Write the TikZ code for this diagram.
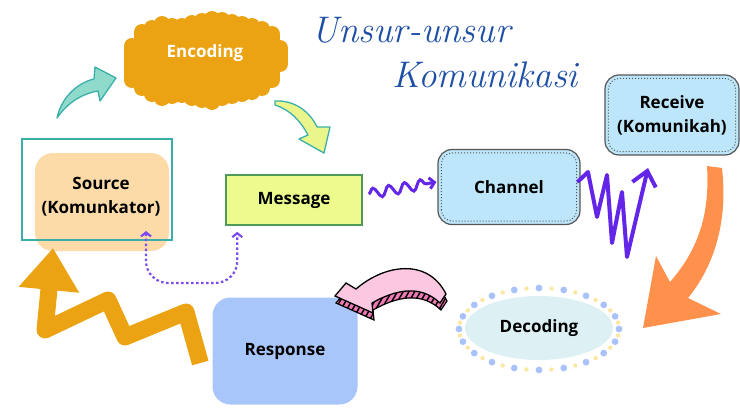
\documentclass[tikz,border=0pt]{standalone}
\usepackage{fontspec}
\newfontfamily\lbl{Open Sans}
\usetikzlibrary{positioning,arrows.meta,decorations.pathmorphing,patterns.meta,shapes.geometric}

\definecolor{encorange}{HTML}{EBA313}
\definecolor{tealedge}{HTML}{3AAFA9}
\definecolor{tealfill}{HTML}{8FDACB}
\definecolor{yelfill}{HTML}{EAF68C}
\definecolor{srcfill}{HTML}{FDDBA9}
\definecolor{msgfill}{HTML}{EDFB8C}
\definecolor{msgedge}{HTML}{4E9A5A}
\definecolor{chfill}{HTML}{BDE6FA}
\definecolor{chedge}{HTML}{555555}
\definecolor{scribble}{HTML}{6326E8}
\definecolor{fbpurple}{HTML}{7C4DEE}
\definecolor{bigorange}{HTML}{FF914D}
\definecolor{decfill}{HTML}{DDF1F4}
\definecolor{dotblue}{HTML}{A9C3FA}
\definecolor{dotyel}{HTML}{FBE7A1}
\definecolor{pinkfill}{HTML}{FCC7E1}
\definecolor{pinkside}{HTML}{F07BB4}
\definecolor{respfill}{HTML}{A9C6FB}
\definecolor{titleblue}{HTML}{1E4FA6}

\begin{document}
\begin{tikzpicture}[x=1pt,y=-1pt,
    box/.style={font=\lbl\bfseries\fontsize{17}{24}\selectfont, text=black, align=center, inner sep=0pt},
    blob/.style={encorange, line width=16pt, line cap=round},
    title/.style={font=\fontsize{37}{37}\selectfont\itshape, text=titleblue, inner sep=0pt},
    fatarrow/.style={draw=tealedge, line width=1.3pt, line join=round},
    wavy/.style={scribble, line width=3pt, decorate,
        decoration={snake, amplitude=5pt, segment length=16pt, post length=7pt}},
    scrib/.style={scribble, line width=4pt, line join=round, line cap=round},
    fbline/.style={fbpurple, line width=2.2pt, dash pattern=on 2.5pt off 2.5pt, rounded corners=22pt},
    zig/.style={encorange, line width=17pt, line join=round}]
\useasboundingbox (0,0) rectangle (740,410);

% title
\node[title] (ttl1) at (411,30) {Unsur-unsur};
\node[title] (ttl2) at (485,75) {Komunikasi};

% encoding blob
\foreach \x/\t/\b in {132/38/88, 142/24/96, 152/20/102, 162/16/106, 172/18/104, 182/18/103,
    192/15/106, 202/13/108, 212/11/110, 222/12/106, 232/14/104, 242/16/102, 252/18/100,
    262/21/96, 272/26/88, 280/40/72}
  \draw[blob] (\x,\t+8) -- (\x,\b-8);
\node[box, text=white] (enc) at (205,53) {Encoding};

% source
\node[fill=srcfill, rounded corners=18pt, minimum width=134pt, minimum height=98pt] (srcbg) at (102,202) {};
\node[draw=tealedge, line width=2.6pt, minimum width=150pt, minimum height=101pt] (srcframe) at (97,189.5) {};
\node[box] (src) at (101,197) {Source\\(Komunkator)};

% message, channel, receive
\node[box, fill=msgfill, draw=msgedge, line width=1.5pt, minimum width=136pt, minimum height=50pt] (msg) at (294,200) {Message};
\node[box, fill=chfill, draw=chedge, line width=1.2pt, rounded corners=14pt, minimum width=142pt, minimum height=75pt] (chan) at (509,187) {Channel};
\draw[chedge, line width=1pt, dotted, rounded corners=11pt] ([shift={(4,-4)}]chan.south west) rectangle ([shift={(-4,4)}]chan.north east);
\node[box, fill=chfill, draw=chedge, line width=1.2pt, rounded corners=14pt, minimum width=134pt, minimum height=80pt] (rcv) at (672,115) {Receive\\(Komunikah)};
\draw[chedge, line width=1pt, dotted, rounded corners=11pt] ([shift={(4,-4)}]rcv.south west) rectangle ([shift={(-4,4)}]rcv.north east);

% decoding
\foreach \i in {0,...,39}{
  \ifodd\i
    \fill[dotyel] ([shift={(539,329)}]\i*9:80 and 41) circle (2.2pt);
  \else
    \fill[dotblue] ([shift={(539,329)}]\i*9:80 and 41) circle (3.4pt);
  \fi}
\node[box, ellipse, fill=decfill, minimum width=148pt, minimum height=64pt] (dec) at (539,328) {Decoding};

% response
\node[box, fill=respfill, rounded corners=18pt, minimum width=145pt, minimum height=107pt] (resp) at (285,351) {Response};

% fat arrows
\filldraw[fatarrow, fill=tealfill] (57,118) .. controls (62,95) and (80,82) .. (94,79) -- (95,67) -- (116,78)
  -- (100,101) -- (98,91) .. controls (82,94) and (68,102) .. (57,118) -- cycle;
\filldraw[fatarrow, fill=yelfill] (275,101) .. controls (295,100) and (310,112) .. (317,127) -- (330,127)
  -- (324,153) -- (299,139) -- (308,135) .. controls (300,120) and (290,110) .. (275,105) -- cycle;
\fill[bigorange] (707,166) -- (722,168) .. controls (728,220) and (715,265) .. (688,298) -- (721,314)
  -- (643,328) -- (656,256) -- (670,282) .. controls (698,250) and (710,215) .. (707,166) -- cycle;
\def\pinkarrow{(335,296) -- (346,283) -- (356,289) .. controls (385,264) and (428,258) .. (446,294)
  -- (440,303) .. controls (420,284) and (395,290) .. (372,303) -- (373,313) -- cycle}
\filldraw[black, line width=1.2pt, fill=pinkside, shift={(1,7)}] \pinkarrow;
\fill[pattern={Lines[angle=60,distance=5pt,line width=1.5pt]}, pattern color=black, shift={(1,7)}] \pinkarrow;
\filldraw[black, line width=1.3pt, fill=pinkfill] \pinkarrow;

% connectors
\draw[wavy, -{Straight Barb[length=5pt,width=11pt]}] ([shift={(6,-6)}]msg.east) -- ([shift={(-1,-5)}]chan.west);
\coordinate (rcvin) at (648,168);
\draw[scrib, -{Straight Barb[length=14pt,width=24pt]}] ([shift={(-2,-6)}]chan.east) -- (588,172) -- (597,217)
  -- (607,175) -- (612,243) -- (622,192) -- (627,257) -- (rcvin);
\coordinate (fbA) at (146,231);
\coordinate (fbB) at ([shift={(12,6)}]msg.south west);
\draw[fbline, {Straight Barb[length=4pt,width=10pt]}-{Straight Barb[length=4pt,width=10pt]}] (fbA) |- (192,283) -| (fbB);
\coordinate (zt) at ([shift={(-12,12)}]resp.west);
\coordinate (zh) at (53,248);
\draw[zig, -{Triangle[length=42pt,width=58pt]}] (zt) -- (186,312) -- (125,337) -- (108,300) -- (45,330) -- (zh);

\end{tikzpicture}
\end{document}
